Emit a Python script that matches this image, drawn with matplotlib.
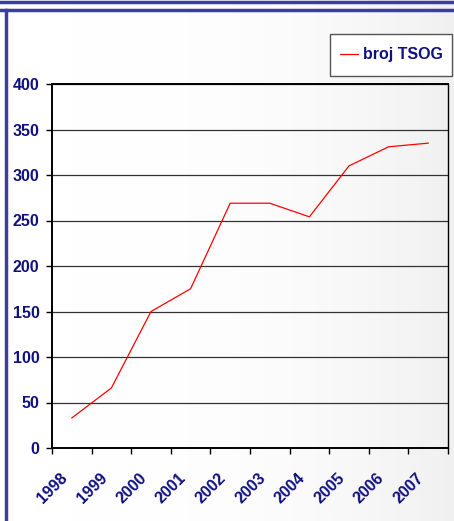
import numpy as np
import matplotlib.pyplot as plt
from matplotlib.lines import Line2D
from matplotlib.patches import Rectangle
from matplotlib.transforms import ScaledTranslation

years = ["1998", "1999", "2000", "2001", "2002", "2003", "2004", "2005", "2006", "2007"]
broj_tsog = [33, 66, 150, 175, 269, 269, 254, 310, 331, 335]

navy = "#101080"
plt.rcParams["font.family"] = ["Liberation Sans", "DejaVu Sans"]

fig = plt.figure(figsize=(4.54, 5.21), dpi=100)

# light background gradient towards the right
bg = fig.add_axes([0, 0, 1, 1], zorder=-10)
grad = np.linspace(0, 1, 256) ** 3
bg.imshow(np.vstack([grad, grad]), extent=[0, 1, 0, 1], aspect="auto",
          cmap=plt.matplotlib.colors.LinearSegmentedColormap.from_list("g", ["#ffffff", "#f0f0f0"]))
bg.set_axis_off()

# blue frame lines
fig.add_artist(Line2D([0, 1], [1 - 2 / 521, 1 - 2 / 521], color="#3c3ca8", lw=2.5))
fig.add_artist(Line2D([0, 1], [1 - 10 / 521, 1 - 10 / 521], color="#3c3ca8", lw=2.5))
fig.add_artist(Line2D([6 / 454, 6 / 454], [0, 1 - 10 / 521], color="#3c3ca8", lw=2.5))

ax = fig.add_axes([52 / 454, 1 - 448 / 521, 396 / 454, 364 / 521])
ax.set_facecolor("none")
x = np.arange(len(years))
line, = ax.plot(x, broj_tsog, color="red", lw=0.9, label="broj TSOG")

ax.set_xlim(-0.5, len(years) - 0.5)
ax.set_ylim(0, 400)
ax.set_yticks(range(0, 401, 50))
for v in range(50, 401, 50):
    ax.axhline(v, color="#333333", lw=0.9, zorder=0)

ax.set_xticks(x)
ax.set_xticklabels(years, rotation=45, ha="right", rotation_mode="anchor")
ax.set_xticks(np.arange(-0.5, len(years)), minor=True)
ax.tick_params(axis="x", which="major", length=0, pad=16)
ax.tick_params(axis="x", which="minor", length=4, width=1, direction="out")
ax.tick_params(axis="y", length=4, width=1, pad=5)
shift = ScaledTranslation(-12 / 100, 0, fig.dpi_scale_trans)
for lab in ax.get_xticklabels():
    lab.set_transform(lab.get_transform() + shift)
for lab in ax.get_xticklabels() + ax.get_yticklabels():
    lab.set_color(navy)
    lab.set_fontweight("bold")
    lab.set_fontsize(11.5)

for s in ["left", "bottom", "top"]:
    ax.spines[s].set_linewidth(1.4)
ax.spines["right"].set_linewidth(1.0)

# legend box
fig.add_artist(Rectangle((330 / 454, 1 - 76 / 521), 122 / 454, 42 / 521,
                         transform=fig.transFigure, facecolor="white",
                         edgecolor="#555555", lw=1.0))
leg = fig.legend(handles=[line], loc="center left", bbox_to_anchor=(340 / 454, 1 - 55 / 521),
                 frameon=False, handlelength=1.15, handletextpad=0.3,
                 borderpad=0, borderaxespad=0, prop={"weight": "bold", "size": 11.5})
for t in leg.get_texts():
    t.set_color(navy)

fig.savefig("out.png", dpi=100)
